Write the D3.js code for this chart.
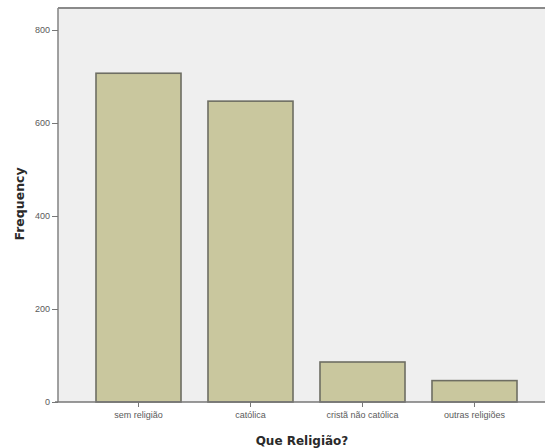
<!DOCTYPE html>
<html><head><meta charset="utf-8">
<script src="https://cdn.jsdelivr.net/npm/d3@7"></script>
<style>body{margin:0;background:#fff}svg{display:block}</style>
</head><body><svg id="c" width="545" height="448"></svg>
<script>
const categories = ["sem religião", "católica", "cristã não católica", "outras religiões"];
const frequencies = [707, 647, 86, 46];
const yTicks = [0, 200, 400, 600, 800];
const xTitle = "Que Religião?";
const yTitle = "Frequency";

(function () {
const svg = d3.select("#c");
const pLeft = 58, pTop = 8, pBottom = 402, pRight = 545;

const y = d3.scaleLinear().domain([0, 800]).range([pBottom, 30]);
const x = d3.scaleBand().domain(categories).range([96, 517]).paddingInner(0.241).paddingOuter(0);

svg.append("rect").attr("x", pLeft).attr("y", pTop).attr("width", pRight - pLeft).attr("height", pBottom - pTop)
  .attr("fill", "#efefef");
svg.append("line").attr("x1", pLeft).attr("x2", pRight).attr("y1", pTop).attr("y2", pTop)
  .attr("stroke", "#8a8a8a").attr("stroke-width", 2);

svg.selectAll("rect.bar").data(categories).join("rect").attr("class", "bar")
  .attr("x", d => x(d)).attr("width", x.bandwidth())
  .attr("y", (d, i) => y(frequencies[i])).attr("height", (d, i) => pBottom - y(frequencies[i]))
  .attr("fill", "#c9c79e").attr("stroke", "#6e6e63").attr("stroke-width", 1.6);

const ya = svg.append("g").attr("transform", `translate(${pLeft},0)`)
  .call(d3.axisLeft(y).tickValues(yTicks).tickSize(6).tickPadding(2).tickSizeOuter(0));
ya.select(".domain").attr("stroke", "#8a8a8a").attr("stroke-width", 1.6).attr("d", `M0,${pTop}V${pBottom}`);
ya.selectAll(".tick line").attr("stroke", "#777");
ya.selectAll(".tick text").attr("font-family", "Liberation Sans, Arial, sans-serif").attr("font-size", 9).attr("fill", "#5a5a5a");

const xa = svg.append("g").attr("transform", `translate(0,${pBottom})`)
  .call(d3.axisBottom(x).tickSize(5).tickPadding(5).tickSizeOuter(0));
xa.select(".domain").attr("stroke", "#777").attr("stroke-width", 1.6).attr("d", `M${pLeft - 3},0H${pRight}`);
xa.selectAll(".tick line").attr("stroke", "#777");
xa.selectAll(".tick text").attr("font-family", "Liberation Sans, Arial, sans-serif").attr("font-size", 9).attr("fill", "#5a5a5a");

svg.append("text").attr("x", 302).attr("y", 445).attr("text-anchor", "middle")
  .attr("font-family", "DejaVu Sans, sans-serif").attr("font-weight", "bold").attr("font-size", 12).attr("fill", "#2a2a2a")
  .text(xTitle);
svg.append("text").attr("transform", "translate(24,204) rotate(-90)").attr("text-anchor", "middle")
  .attr("font-family", "DejaVu Sans, sans-serif").attr("font-weight", "bold").attr("font-size", 12.5).attr("fill", "#2a2a2a")
  .text(yTitle);
})();
</script></body></html>
